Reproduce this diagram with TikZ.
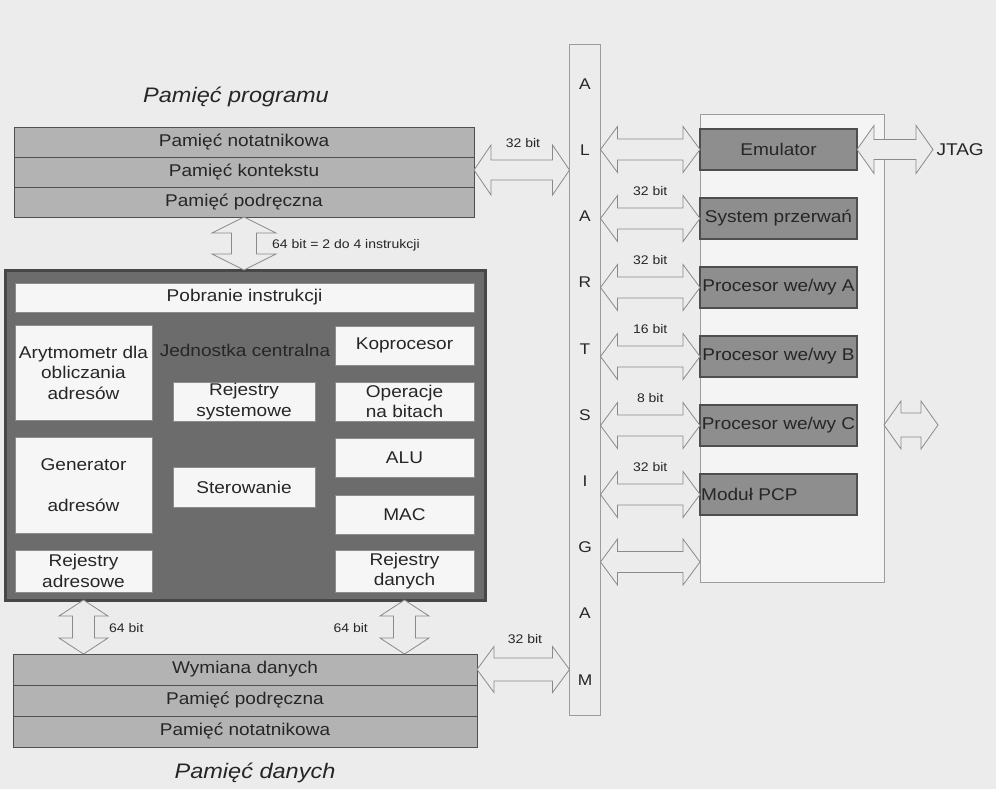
\documentclass[tikz,border=0pt]{standalone}
\usepackage{fontspec}
\setmainfont{Liberation Sans}[FakeStretch=1.12]
\usepackage{tikz}
\usetikzlibrary{positioning,calc}
\definecolor{Paper}{HTML}{ECECEC}
\definecolor{MemGray}{HTML}{B3B3B3}
\definecolor{MemLine}{HTML}{505050}
\definecolor{CpuGray}{HTML}{6C6C6C}
\definecolor{CpuEdge}{HTML}{474747}
\definecolor{UnitWhite}{HTML}{F6F6F6}
\definecolor{PerGray}{HTML}{8E8E8E}
\definecolor{PerEdge}{HTML}{4E4E4E}
\definecolor{ArrowGray}{HTML}{8A8A8A}
\definecolor{FrameGray}{HTML}{9C9C9C}
\definecolor{TextDark}{HTML}{262626}
\newcommand{\boxfont}{\fontsize{17}{20.5}\selectfont}
\newcommand{\titlefont}{\fontsize{21}{24}\selectfont\itshape}
\newcommand{\bitfont}{\fontsize{12.5}{14}\selectfont}
\newcommand{\letterfont}{\fontsize{15.5}{18}\selectfont}
\tikzset{
  memrow/.style={draw=MemLine, thick, fill=MemGray, inner sep=0pt, outer sep=0pt,
    font=\boxfont, text=TextDark},
  cpubody/.style={draw=CpuEdge, line width=3pt, fill=CpuGray, inner sep=0pt, outer sep=0pt},
  unit/.style={draw=black!45, fill=UnitWhite, align=center, inner sep=0pt, outer sep=0pt,
    font=\boxfont, text=TextDark},
  periph/.style={draw=PerEdge, line width=1.2pt, fill=PerGray, inner sep=0pt, outer sep=0pt,
    minimum width=157pt, minimum height=41pt, font=\boxfont, text=TextDark},
  busbox/.style={draw=FrameGray, fill=Paper, inner sep=0pt, outer sep=0pt},
  frame/.style={draw=FrameGray, fill=Paper!60!white, inner sep=0pt, outer sep=0pt},
  blockarrow/.style={draw=ArrowGray, fill=Paper, line width=0.8pt, line join=miter},
  bitlabel/.style={font=\bitfont, text=TextDark, inner sep=1pt},
  busletter/.style={font=\letterfont, text=TextDark, inner sep=0pt}
}
% horizontal block arrow: left end, right end, shaft half, head half
\newcommand{\dblarrowh}[4]{%
  \draw[blockarrow] let \p1=#1, \p2=#2 in
    (\x1,\y1) -- (\x1+17pt,\y1+#4) -- (\x1+17pt,\y1+#3) -- (\x2-17pt,\y1+#3)
    -- (\x2-17pt,\y1+#4) -- (\x2,\y1) -- (\x2-17pt,\y1-#4) -- (\x2-17pt,\y1-#3)
    -- (\x1+17pt,\y1-#3) -- (\x1+17pt,\y1-#4) -- cycle;}
% vertical block arrow: top end, bottom end, shaft half, head half
\newcommand{\dblarrowv}[4]{%
  \draw[blockarrow] let \p1=#1, \p2=#2 in
    (\x1,\y1) -- (\x1+#4,\y1-16pt) -- (\x1+#3,\y1-16pt) -- (\x1+#3,\y2+16pt)
    -- (\x1+#4,\y2+16pt) -- (\x1,\y2) -- (\x1-#4,\y2+16pt) -- (\x1-#3,\y2+16pt)
    -- (\x1-#3,\y1-16pt) -- (\x1-#4,\y1-16pt) -- cycle;}

\begin{document}
\begin{tikzpicture}[x=1pt, y=-1pt, node distance=28pt]
  \fill[Paper] (0,0) rectangle (996,789);
  \useasboundingbox (0,0) rectangle (996,789);

  % program memory
  \node[font=\titlefont, text=TextDark] (progtitle) at (236,97) {Pamięć programu};
  \node[memrow, minimum width=460pt, minimum height=30pt] (pnot) at (244,142) {Pamięć notatnikowa};
  \node[memrow, minimum width=460pt, minimum height=30pt, below=0pt of pnot] (pkon) {Pamięć kontekstu};
  \node[memrow, minimum width=460pt, minimum height=30pt, below=0pt of pkon] (ppod) {Pamięć podręczna};

  % central unit
  \node[cpubody, minimum width=480pt, minimum height=330pt] (cpu) at (245,435) {};
  \node[font=\boxfont, text=black!85] (jcent) at (245,350) {Jednostka centralna};
  \node[unit, minimum width=459pt, minimum height=29pt] (fetch) at (244.5,297.5) {Pobranie instrukcji};
  \node[unit, minimum width=137pt, minimum height=95pt] (arith) at (83.5,372.5) {Arytmometr dla\\obliczania\\adresów};
  \node[unit, minimum width=137pt, minimum height=96pt] (agen) at (83.5,485) {Generator\\[21pt]adresów};
  \node[unit, minimum width=137pt, minimum height=42pt] (areg) at (83.5,571) {Rejestry\\adresowe};
  \node[unit, minimum width=142pt, minimum height=39pt] (sreg) at (244,401.5) {Rejestry\\systemowe};
  \node[unit, minimum width=142pt, minimum height=40pt] (ctrl) at (244,487) {Sterowanie};
  \node[unit, minimum width=139pt, minimum height=39pt] (copro) at (404.5,345.5) {Koprocesor};
  \node[unit, minimum width=139pt, minimum height=39pt] (bitop) at (404.5,401.5) {Operacje\\na bitach};
  \node[unit, minimum width=139pt, minimum height=39pt] (alu) at (404.5,457.5) {ALU};
  \node[unit, minimum width=139pt, minimum height=39pt] (mac) at (404.5,514.5) {MAC};
  \node[unit, minimum width=139pt, minimum height=42pt] (dreg) at (404.5,571) {Rejestry\\danych};

  % data memory
  \node[memrow, minimum width=464pt, minimum height=31pt] (dwym) at (245,669.5) {Wymiana danych};
  \node[memrow, minimum width=464pt, minimum height=31pt, below=0pt of dwym] (dpod) {Pamięć podręczna};
  \node[memrow, minimum width=464pt, minimum height=31pt, below=0pt of dpod] (dnot) {Pamięć notatnikowa};
  \node[font=\titlefont, text=TextDark] (datatitle) at (255,773) {Pamięć danych};

  % bus
  \node[busbox, minimum width=31pt, minimum height=671pt] (bus) at (585,379.5) {};
  \foreach \ch [count=\i] in {A,L,A,R,T,S,I,G,A,M}
    \node[busletter] (bl\i) at (585,{84+66.2*(\i-1)}) {\ch};

  % peripherals
  \node[frame, minimum width=184pt, minimum height=468pt] (pframe) at (792,348) {};
  \node[periph] (emu) at (778.5,149.5) {Emulator};
  \node[periph, below=of emu] (irq) {System przerwań};
  \node[periph, below=of irq] (ioa) {Procesor we/wy A};
  \node[periph, below=of ioa] (iob) {Procesor we/wy B};
  \node[periph, below=of iob] (ioc) {Procesor we/wy C};
  \node[periph, below=of ioc] (pcp) {};
  \node[font=\boxfont, text=TextDark, anchor=west, inner sep=1pt] (pcptext) at (pcp.west) {Moduł PCP};
  \coordinate (gport) at (pframe.west |- 0,562);
  \node[font=\boxfont, text=TextDark, anchor=west] (jtag) at (933,150) {JTAG};

  % connections
  \dblarrowv{(ppod.south)}{(ppod.south |- cpu.north)}{12.5pt}{32pt}
  \node[bitlabel, anchor=west] (lprog) at (271,245) {64 bit = 2 do 4 instrukcji};
  \dblarrowv{(areg.south |- cpu.south)}{(areg.south |- dwym.north)}{11pt}{24.5pt}
  \node[bitlabel, anchor=west] (laddr) at (108,628) {64 bit};
  \dblarrowv{(dreg.south |- cpu.south)}{(dreg.south |- dwym.north)}{11pt}{24.5pt}
  \node[bitlabel, anchor=east] (ldata) at (369,628) {64 bit};
  \dblarrowh{(pkon.east |- 0,170)}{(bus.west |- 0,170)}{10pt}{25pt}
  \node[bitlabel] (lpbus) at (523,143) {32 bit};
  \dblarrowh{(dwym.east)}{(bus.west |- dwym.east)}{11.5pt}{23pt}
  \node[bitlabel] (ldbus) at (525,639) {32 bit};
  \foreach \dev/\bits in {emu/, irq/32 bit, ioa/32 bit, iob/16 bit, ioc/8 bit, pcp/32 bit}{
    \dblarrowh{(bus.east |- \dev.west)}{(\dev.west)}{10.5pt}{23pt}
    \node[bitlabel] (l\dev) at ($(bus.east |- \dev.west)!0.5!(\dev.west) + (0,-27)$) {\bits};
  }
  \dblarrowh{(bus.east |- gport)}{(gport)}{10.5pt}{23pt}
  \dblarrowh{(emu.east)}{(jtag.west)}{10pt}{24pt}
  \coordinate (cport) at (938,425);
  \dblarrowh{(pframe.east |- cport)}{(cport)}{12pt}{24pt}
\end{tikzpicture}
\end{document}
